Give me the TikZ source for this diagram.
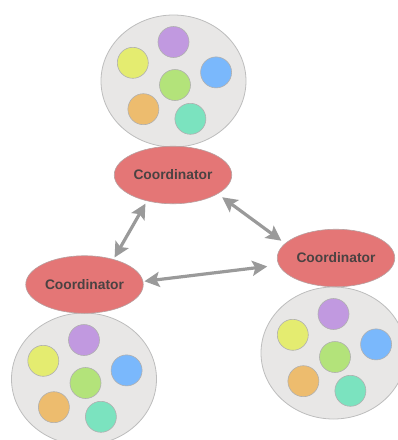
\documentclass[tikz,border=0pt]{standalone}
\usepackage{fontspec}
\newfontfamily\labelfont{Liberation Sans}
\usetikzlibrary{shapes.geometric,arrows.meta}

\definecolor{bubblefill}{HTML}{E8E7E6}
\definecolor{bubbleline}{HTML}{BDBDBD}
\definecolor{coordfill}{HTML}{E47676}
\definecolor{coordline}{HTML}{B8A0A0}
\definecolor{coordtext}{HTML}{4A4242}
\definecolor{agentline}{HTML}{B0B0B0}
\definecolor{cpurple}{HTML}{C199E0}
\definecolor{cyellow}{HTML}{E4EC70}
\definecolor{cblue}{HTML}{7AB8FC}
\definecolor{cgreen}{HTML}{B3E37A}
\definecolor{corange}{HTML}{EDBC6E}
\definecolor{cteal}{HTML}{7BE3BF}
\definecolor{linkgray}{HTML}{9A9A9A}

\tikzset{
  bubble/.style={ellipse, draw=bubbleline, fill=bubblefill, line width=0.8pt,
    minimum width=145pt, minimum height=132pt, inner sep=0pt},
  agent/.style={circle, draw=agentline, line width=0.6pt, minimum size=31pt, inner sep=0pt},
  coordinator/.style={ellipse, draw=coordline, fill=coordfill, line width=0.6pt,
    minimum width=117.5pt, minimum height=57.5pt, inner sep=0pt,
    font=\labelfont\bfseries\fontsize{13.8}{16}\selectfont, text=coordtext},
  link/.style={draw=linkgray, line width=3.2pt,
    {Stealth[length=15pt,width=15pt,inset=3pt]}-{Stealth[length=15pt,width=15pt,inset=3pt]}},
  cluster/.pic={
    \node[bubble] (-bg) at (0,0) {};
    \node[agent, fill=cpurple] (-a1) at (0,-39) {};
    \node[agent, fill=cyellow] (-a2) at (-40.7,-18.2) {};
    \node[agent, fill=cblue]   (-a3) at (42.6,-8.6) {};
    \node[agent, fill=cgreen]  (-a4) at (1.5,4) {};
    \node[agent, fill=corange] (-a5) at (-30.1,28.2) {};
    \node[agent, fill=cteal]   (-a6) at (16.9,37.8) {};
  }
}

\begin{document}
\begin{tikzpicture}[x=1pt, y=-1pt]
  \useasboundingbox (0,0) rectangle (398,440);
  \clip (0,0) rectangle (398,440);

  % groups of agents
  \pic (top)   at (173.5,81)  {cluster};
  \pic (left)  at (84,379)    {cluster};
  \pic (right) at (333.5,353) {cluster};

  % coordinators
  \node[coordinator] (ctop)   at (173,175)   {Coordinator};
  \node[coordinator] (cleft)  at (84.5,284.5) {Coordinator};
  \node[coordinator] (cright) at (336,258)   {Coordinator};

  % links between coordinators
  \draw[link, shorten <=3pt, shorten >=2pt]  (ctop.225.3)  -- (cleft.41);
  \draw[link, shorten <=5.5pt, shorten >=4.5pt] (ctop.337.1)  -- (cright.164.7);
  \draw[link, shorten <=1.2pt, shorten >=11.5pt] (cleft.3.8) -- (cright.187.1);
\end{tikzpicture}
\end{document}
